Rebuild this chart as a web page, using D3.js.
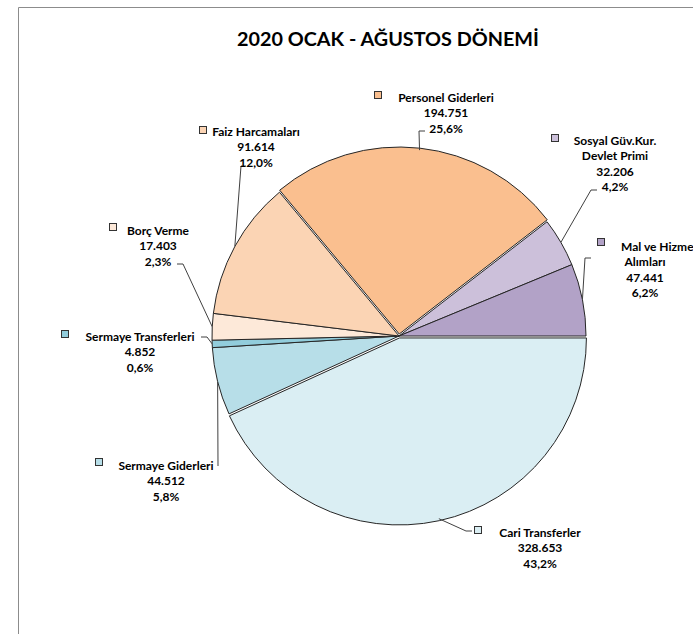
<!DOCTYPE html>
<html><head><meta charset="utf-8">
<script src="https://cdn.jsdelivr.net/npm/d3@7"></script>
<style>
html,body{margin:0;padding:0;background:#fff;}
svg{display:block;}
text{font-family:Lato,"Open Sans",sans-serif;font-weight:bold;fill:#000;}
</style></head>
<body>
<script>
// ---- data ----
const title = "2020 OCAK - AĞUSTOS DÖNEMİ";
const categories = ["Cari Transferler","Sermaye Giderleri","Sermaye Transferleri","Borç Verme","Faiz Harcamaları","Personel Giderleri","Sosyal Güv.Kur. Devlet Primi","Mal ve Hizmet Alımları"];
const nameLines = [["Cari Transferler"],["Sermaye Giderleri"],["Sermaye Transferleri"],["Borç Verme"],["Faiz Harcamaları"],["Personel Giderleri"],["Sosyal Güv.Kur.","Devlet Primi"],["Mal ve Hizmet","Alımları"]];
const values = [328653,44512,4852,17403,91614,194751,32206,47441];
const colors = ["#DAEEF3","#B7DEE8","#92CDDC","#FDE9D9","#FBD4B4","#FABF8F","#CCC0DA","#B2A2C7"];
const explode = [2,0,0,0,0,2,0,0];

// ---- layout (label positions) ----
const labelLayout = [
  {cx:540, y0:532, mx:478, my:530, lead:[[472,531],[466,531]]},
  {cx:166, y0:465, mx:99,  my:462, lead:[[218,466]]},
  {cx:140, y0:336, mx:65,  my:334, lead:[[201,337],[207,337]]},
  {cx:158, y0:230, mx:113, my:227, lead:[[177,264],[183,264]]},
  {cx:256, y0:131, mx:203, my:130, lead:[[246,166],[241,166]]},
  {cx:446, y0:97,  mx:378, my:95,  lead:[[425,131],[419,131]]},
  {cx:615, y0:140, mx:555, my:138, lead:[[597,190],[591,190]]},
  {cx:645, y0:246, mx:601, my:242, lead:[[591,258],[585,258]], firstStart:621}
];

const W = 693, H = 634;
const cx = 399, cy = 336, R = 187;
const lineH = 15.5;

const svg = d3.select("body").append("svg").attr("width", W).attr("height", H);

// frame
svg.append("path").attr("d", `M18.5,${H} L18.5,7.5 L${W},7.5`).attr("fill","none").attr("stroke","#8c8c8c").attr("stroke-width",1);

svg.append("text").attr("x", 388).attr("y", 38).attr("text-anchor","middle").attr("dominant-baseline","central")
  .style("font-size","19.8px").text(title);

const total = d3.sum(values);
const fmt = d3.formatLocale({decimal:",", thousands:".", grouping:[3], currency:["",""]}).format(",d");
const pct = v => (v/total*100).toFixed(1).replace(".", ",") + "%";

const pie = d3.pie().sort(null).startAngle(Math.PI/2).endAngle(Math.PI/2 + 2*Math.PI);
const arcs = pie(values);
const arc = d3.arc().innerRadius(0).outerRadius(R);
const edge = d3.arc().innerRadius(R).outerRadius(R);

const g = svg.append("g").attr("transform", `translate(${cx},${cy})`);
g.selectAll("path.slice").data(arcs).join("path")
  .attr("class","slice")
  .attr("d", arc)
  .attr("transform", (d,i) => {
    const a = (d.startAngle + d.endAngle)/2;
    return `translate(${explode[i]*Math.sin(a)},${-explode[i]*Math.cos(a)})`;
  })
  .attr("fill", (d,i) => colors[i])
  .attr("stroke", "#262626").attr("stroke-width", 1).attr("stroke-linejoin","round");

// leader lines
arcs.forEach((d,i) => {
  const L = labelLayout[i];
  const e = edge.centroid(d);
  const pts = L.lead.concat([[e[0]+cx, e[1]+cy]]);
  svg.append("path").attr("d", d3.line()(pts)).attr("fill","none").attr("stroke","#404040").attr("stroke-width",1);
});

// labels
arcs.forEach((d,i) => {
  const L = labelLayout[i];
  const lines = nameLines[i].concat([fmt(values[i]), pct(values[i])]);
  svg.append("rect").attr("x", L.mx-3.5).attr("y", L.my-3.5).attr("width",7).attr("height",7)
    .attr("fill", colors[i]).attr("stroke","#333").attr("stroke-width",1);
  lines.forEach((t,k) => {
    const useStart = (k===0 && L.firstStart);
    svg.append("text")
      .attr("x", useStart ? L.firstStart : L.cx)
      .attr("y", L.y0 + k*lineH)
      .attr("text-anchor", useStart ? "start" : "middle")
      .attr("dominant-baseline","central")
      .style("font-size","12px")
      .text(t);
  });
});
</script>
</body></html>
